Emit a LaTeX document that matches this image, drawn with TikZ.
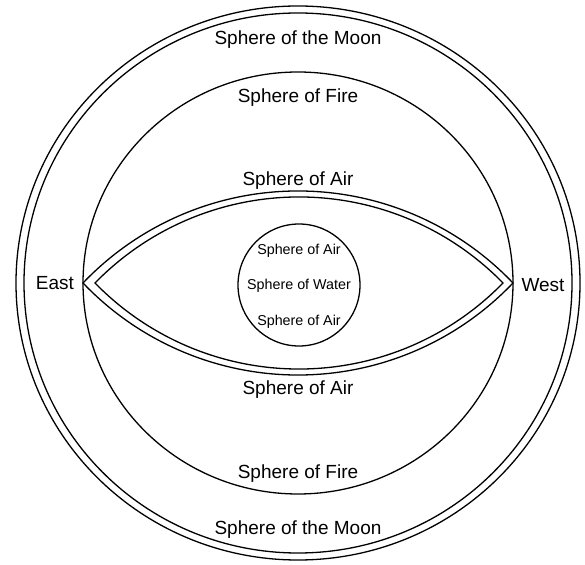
\documentclass[tikz,border=0pt]{standalone}
\usepackage{fontspec}
\setmainfont{Liberation Sans}
\usetikzlibrary{positioning}
\begin{document}
\begin{tikzpicture}[x=1pt,y=1pt,
  ring/.style={line width=1.3pt},
  big/.style={font=\fontsize{19}{22}\selectfont,inner sep=0pt},
  sml/.style={font=\fontsize{14.3}{17}\selectfont,inner sep=0pt}]
\useasboundingbox (0,0) rectangle (585,564);
\coordinate (c) at (298,281);
% moon: double ring
\draw[ring] (c) ellipse [x radius=282,y radius=277];
\draw[ring] (c) ellipse [x radius=274,y radius=270];
% fire
\draw[ring] (c) ellipse [x radius=215,y radius=211];
% lens of air, two walls
\draw[ring] (83,281) arc[start angle=136.34,end angle=43.66,radius=297.2]
  arc[start angle=-43.66,end angle=-136.34,radius=297.2] -- cycle;
\draw[ring] (95,281) arc[start angle=135.73,end angle=44.27,radius=284.9]
  arc[start angle=-44.27,end angle=-135.73,radius=284.9] -- cycle;
% water
\draw[ring] (299,279) circle [radius=61];
\node[big] (mt) at (298,524) {Sphere of the Moon};
\node[big] (ft) at (298,466) {Sphere of Fire};
\node[big] (at) at (298,383) {Sphere of Air};
\node[big] (ab) at (298,174) {Sphere of Air};
\node[big] (fb) at (298,90)  {Sphere of Fire};
\node[big] (mb) at (298,34)  {Sphere of the Moon};
\node[big] (ea) at (55,281)  {East};
\node[big] (we) at (543,279) {West};
\node[sml] (wa) at (299,278) {Sphere of Water};
\node[sml,above=21.6pt of wa] (wt) {Sphere of Air};
\node[sml,below=21.6pt of wa] (wb) {Sphere of Air};
\end{tikzpicture}
\end{document}
